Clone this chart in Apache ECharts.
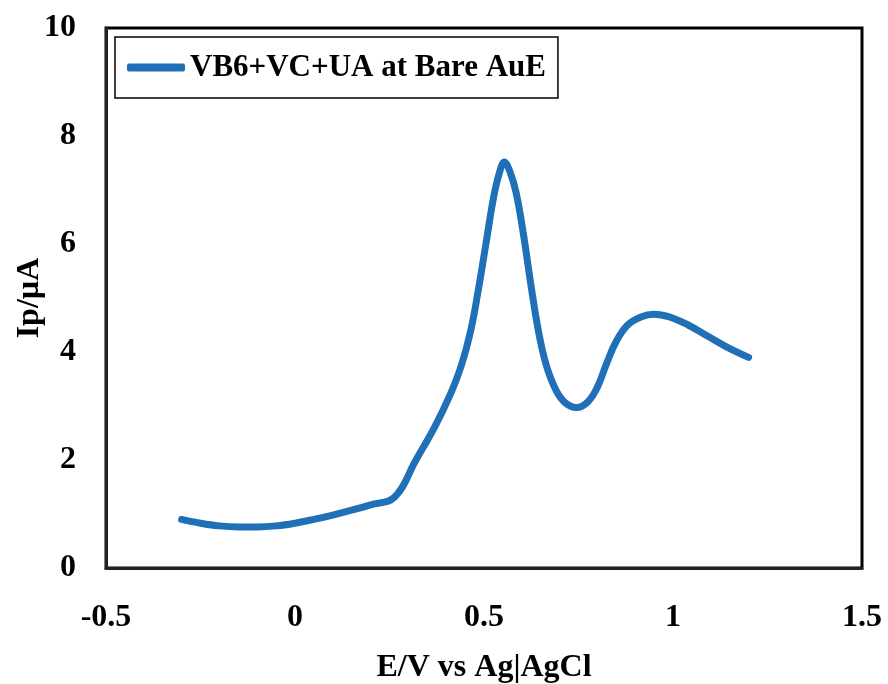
<!DOCTYPE html>
<html>
<head>
<meta charset="utf-8">
<script src="https://cdn.jsdelivr.net/npm/echarts@6/dist/echarts.min.js"></script>
<style>html,body{margin:0;padding:0;background:#fff;}#c{width:888px;height:684px;}</style>
</head>
<body>
<div id="c"></div>
<script>
const seriesName = 'VB6+VC+UA at Bare AuE';
const potential = [-0.3, -0.25, -0.2, -0.15, -0.1, -0.05, 0, 0.05, 0.1, 0.15, 0.2, 0.263, 0.32, 0.37, 0.41, 0.44, 0.465, 0.485, 0.505, 0.525, 0.54, 0.554, 0.568, 0.585, 0.605, 0.625, 0.645, 0.665, 0.69, 0.715, 0.745, 0.775, 0.8, 0.825, 0.85, 0.88, 0.915, 0.95, 0.99, 1.04, 1.09, 1.14, 1.2];
const current = [0.9, 0.83, 0.78, 0.76, 0.76, 0.78, 0.83, 0.9, 0.98, 1.07, 1.17, 1.31, 2.0, 2.62, 3.2, 3.75, 4.4, 5.15, 6.0, 6.85, 7.3, 7.52, 7.35, 6.95, 6.15, 5.2, 4.35, 3.75, 3.3, 3.06, 2.97, 3.08, 3.35, 3.8, 4.2, 4.5, 4.65, 4.7, 4.65, 4.5, 4.3, 4.1, 3.9];
const xTicks = [-0.5, 0, 0.5, 1, 1.5];
const yTicks = [0, 2, 4, 6, 8, 10];
const xTitle = 'E/V vs Ag|AgCl';
const yTitle = 'Ip/µA';

const data = potential.map((x, i) => [x, current[i]]);
const font = 'Liberation Serif';
const chart = echarts.init(document.getElementById('c'), null, {renderer: 'canvas'});
chart.setOption({
  backgroundColor: '#fff',
  animation: false,
  grid: {left: 106, top: 28, right: 26, bottom: 116, show: true, borderColor: '#000', borderWidth: 3, containLabel: false, outerBoundsMode: 'none'},
  legend: {
    show: true, left: 115, top: 37, orient: 'horizontal',
    padding: [15, 12, 15, 12], borderColor: '#000', borderWidth: 1.5, backgroundColor: '#fff',
    icon: 'roundRect', itemWidth: 58, itemHeight: 8,
    textStyle: {fontFamily: font, fontWeight: 'bold', fontSize: 31, color: '#000'},
    data: [seriesName]
  },
  xAxis: {
    type: 'value', min: xTicks[0], max: xTicks[xTicks.length - 1], interval: 0.5,
    name: xTitle, nameLocation: 'middle', nameGap: 84,
    nameTextStyle: {fontFamily: font, fontWeight: 'bold', fontSize: 32, color: '#000'},
    axisLine: {show: true, onZero: false, lineStyle: {color: '#222', width: 3}},
    axisTick: {show: false}, splitLine: {show: false},
    axisLabel: {margin: 34, fontFamily: font, fontWeight: 'bold', fontSize: 32, color: '#000'}
  },
  yAxis: {
    type: 'value', min: yTicks[0], max: yTicks[yTicks.length - 1], interval: 2,
    name: yTitle, nameLocation: 'middle', nameGap: 60, nameRotate: 90, nameMoveOverlap: false,
    nameTextStyle: {fontFamily: font, fontWeight: 'bold', fontSize: 32, color: '#000'},
    axisLine: {show: true, onZero: false, lineStyle: {color: '#222', width: 3}},
    axisTick: {show: false}, splitLine: {show: false},
    axisLabel: {margin: 30, fontFamily: font, fontWeight: 'bold', fontSize: 32, color: '#000'}
  },
  series: [{
    name: seriesName, type: 'line', data: data, smooth: 0.4, showSymbol: false, symbol: 'none',
    itemStyle: {color: '#1f70b6'},
    lineStyle: {color: '#1f70b6', width: 7, cap: 'round', join: 'round'}
  }]
});
</script>
</body>
</html>
